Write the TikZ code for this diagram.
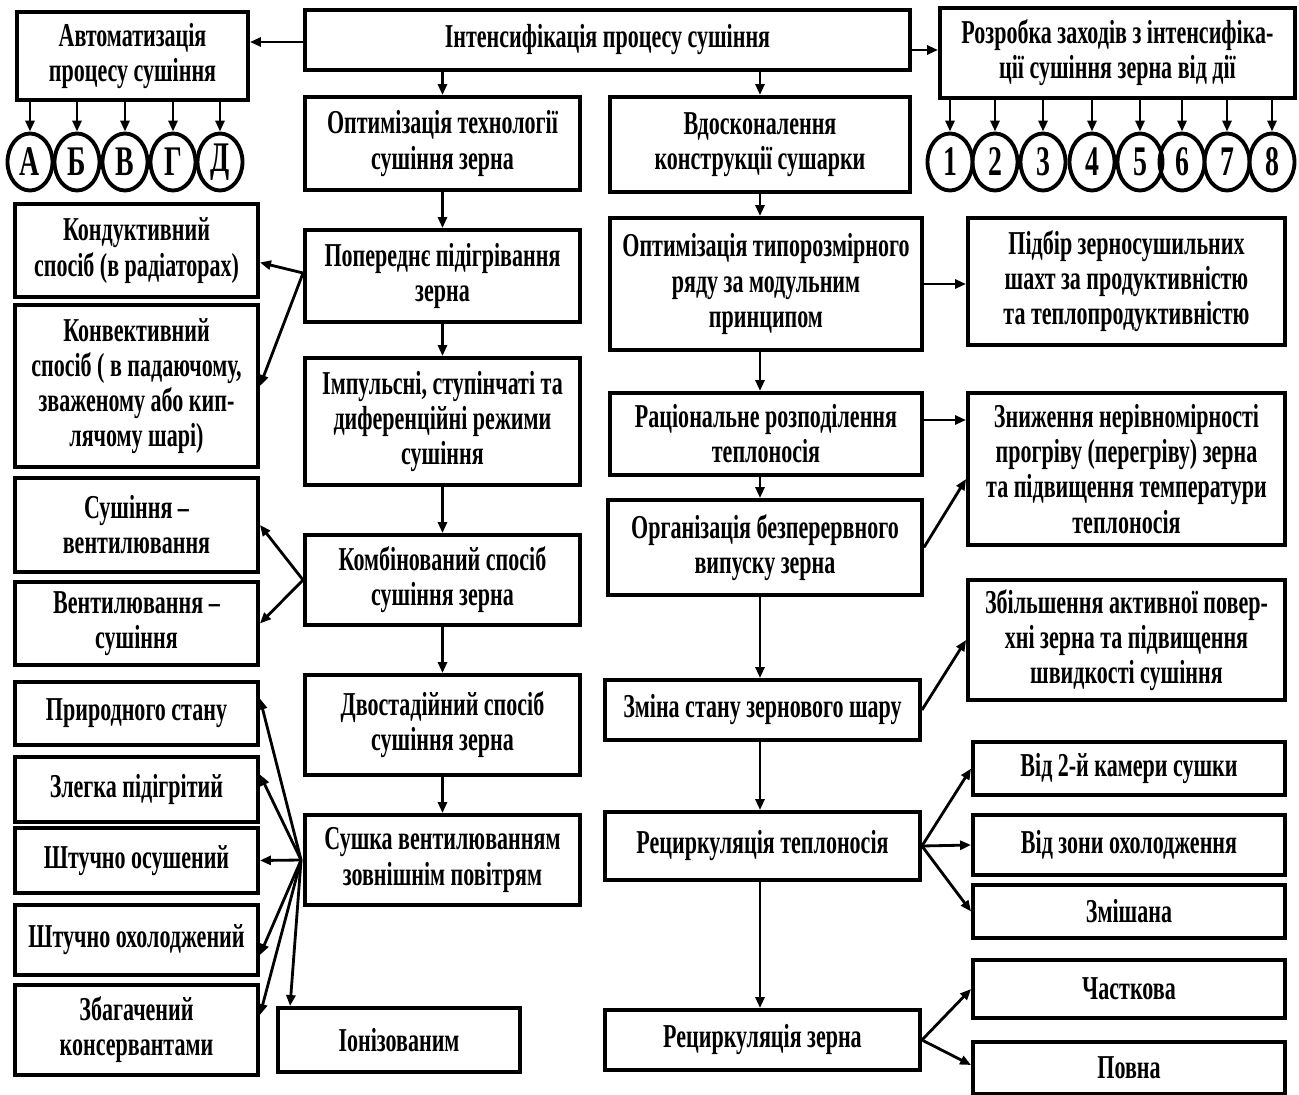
\documentclass[tikz,border=0pt]{standalone}
\usepackage{fontspec}
\setmainfont{Liberation Serif}[FakeStretch=0.66]
\usetikzlibrary{arrows.meta,shapes.geometric,calc}
% \mybox{name}{x1}{y1}{x2}{y2}{text}  (pixel coordinates)
\newcommand\mybox[6]{%
  \node[box, minimum width={(#4-#2)*0.02cm}, minimum height={(#5-#3)*0.02cm}]
    (#1) at ({(#2+#4)/2},{(#3+#5)/2}) {#6};}
\begin{document}
\begin{tikzpicture}[x=0.02cm,y=-0.02cm,
  box/.style={draw, line width=2.2pt, inner sep=0pt, align=center,
    font=\bfseries\fontsize{19}{20}\selectfont},
  circ/.style={draw, ellipse, line width=2.2pt, minimum width=0.9cm,
    minimum height=1.14cm, inner sep=0pt, font=\bfseries\fontsize{24}{24}\selectfont},
  arr/.style={line width=1.6pt, -{Triangle[length=0.22cm,width=0.18cm]}}]
\useasboundingbox (0,0) rectangle (1299,1095);

% top row
\mybox{avt}{17}{12}{248}{100}{Автоматизація\\процесу сушіння}
\mybox{intens}{305}{10}{910}{70}{Інтенсифікація процесу сушіння}
\mybox{rozr}{940}{8}{1295}{98}{Розробка заходів з інтенсифіка-\\ції сушіння зерна від дії}

\foreach \n/\x/\t in {a/30/А, b/77/Б, c/125/В, d/173/Г, e/220/Д}
  \node[circ] (c\n) at (\x,162) {\t};
\foreach \n/\x in {1/950,2/995,3/1043,4/1092,5/1140,6/1182,7/1227,8/1272}
  \node[circ] (d\n) at (\x,162) {\n};

% left-middle column
\mybox{opt1}{305}{97}{580}{190}{Оптимізація технології\\сушіння зерна}
\mybox{pop}{305}{230}{580}{322}{Попереднє підігрівання\\зерна}
\mybox{imp}{305}{358}{580}{485}{Імпульсні, ступінчаті та\\диференційні режими\\сушіння}
\mybox{komb}{305}{535}{580}{625}{Комбінований спосіб\\сушіння зерна}
\mybox{dvo}{305}{675}{580}{775}{Двостадійний спосіб\\сушіння зерна}
\mybox{sush}{305}{815}{580}{905}{Сушка вентилюванням\\зовнішнім повітрям}
\mybox{ion}{278}{1008}{520}{1072}{Іонізованим}

% left column
\mybox{kond}{15}{204}{258}{297}{Кондуктивний\\спосіб (в радіаторах)}
\mybox{konv}{15}{305}{258}{467}{Конвективний\\спосіб ( в падаючому,\\зваженому або кип-\\лячому шарі)}
\mybox{sv}{15}{478}{258}{572}{Сушіння –\\вентилювання}
\mybox{vs}{15}{582}{258}{665}{Вентилювання –\\сушіння}
\mybox{pryr}{15}{682}{258}{745}{Природного стану}
\mybox{zleg}{15}{757}{258}{822}{Злегка підігрітий}
\mybox{osush}{15}{828}{258}{893}{Штучно осушений}
\mybox{ohol}{15}{905}{258}{975}{Штучно охолоджений}
\mybox{zbag}{15}{985}{258}{1075}{Збагачений\\консервантами}

% right-middle column
\mybox{vdos}{610}{97}{910}{192}{Вдосконалення\\конструкції сушарки}
\mybox{typ}{610}{218}{922}{350}{Оптимізація типорозмірного\\ряду за  модульним\\принципом}
\mybox{rac}{610}{393}{922}{475}{Раціональне розподілення\\теплоносія}
\mybox{org}{608}{500}{922}{595}{Організація безперервного\\випуску зерна}
\mybox{zmin}{605}{680}{920}{740}{Зміна стану зернового шару}
\mybox{rect}{605}{812}{920}{880}{Рециркуляція теплоносія}
\mybox{recz}{605}{1010}{920}{1070}{Рециркуляція зерна}

% right column
\mybox{pidb}{968}{218}{1285}{345}{Підбір зерносушильних\\шахт за продуктивністю\\та теплопродуктивністю}
\mybox{zny}{968}{393}{1285}{545}{Зниження нерівномірності\\прогріву (перегріву) зерна\\та підвищення температури\\теплоносія}
\mybox{zbil}{968}{580}{1285}{700}{Збільшення активної повер-\\хні зерна та підвищення\\швидкості сушіння}
\mybox{vid2}{973}{742}{1285}{795}{Від 2-й камери сушки}
\mybox{vidz}{973}{815}{1285}{875}{Від зони охолодження}
\mybox{zmish}{973}{885}{1285}{938}{Змішана}
\mybox{chas}{973}{960}{1285}{1018}{Часткова}
\mybox{povn}{973}{1042}{1285}{1094}{Повна}

% connectors: top
\coordinate (iw) at ([yshift=-0.04cm]intens.west);
\coordinate (ie) at ([yshift=-0.2cm]intens.east);
\draw[arr] (iw) -- (avt.east |- iw);
\draw[arr] (ie) -- (rozr.west |- ie);
\foreach \n in {a,b,c,d,e} \draw[arr] (avt.south -| c\n) -- (c\n.north);
\foreach \n in {1,...,8} \draw[arr] (rozr.south -| d\n) -- (d\n.north);
\draw[arr] (intens.south -| opt1) -- (opt1.north);
\draw[arr] (intens.south -| vdos) -- (vdos.north);

% left-middle chain
\draw[arr] (opt1.south) -- (pop.north);
\draw[arr] (pop.south) -- (imp.north);
\draw[arr] (imp.south) -- (komb.north);
\draw[arr] (komb.south) -- (dvo.north);
\draw[arr] (dvo.south) -- (sush.north);

\coordinate (popw) at ([yshift=0.06cm]pop.west);
\draw[arr] (popw) -- ([yshift=-0.24cm]kond.east);
\draw[arr] (popw) -- (konv.east);
\draw[arr] (komb.west) -- (sv.east);
\draw[arr] (komb.west) -- (vs.east);
\coordinate (sushw) at ([xshift=-0.04cm]sush.west);
\draw[arr] (sushw) -- ([yshift=0.3cm]pryr.east);
\draw[arr] (sushw) -- ([yshift=0.3cm]zleg.east);
\draw[arr] (sushw) -- (osush.east);
\draw[arr] (sushw) -- ([yshift=-0.3cm]ohol.east);
\draw[arr] (sushw) -- ([yshift=0.3cm]zbag.east);
\draw[arr] (sushw) -- ([xshift=0.28cm]ion.north west);

% right-middle chain
\draw[arr] (vdos.south) -- (vdos.south |- typ.north);
\draw[arr] (typ.south -| vdos) -- (rac.north -| vdos);
\draw[arr] (rac.south -| vdos) -- (org.north -| vdos);
\draw[arr] (org.south -| vdos) -- (zmin.north -| vdos);
\draw[arr] (zmin.south -| vdos) -- (rect.north -| vdos);
\draw[arr] (rect.south -| vdos) -- (recz.north -| vdos);

\coordinate (re) at ([yshift=0.28cm]rac.east);
\draw[arr] (typ.east) -- (pidb.west |- typ.east);
\draw[arr] (re) -- (zny.west |- re);
\draw[arr] (org.east) -- ([yshift=-0.2cm]zny.west);
\draw[arr] (zmin.east) -- (zbil.west);
\draw[arr] (rect.east) -- (vid2.west);
\draw[arr] (rect.east) -- (vidz.west);
\draw[arr] (rect.east) -- (zmish.west);
\draw[arr] (recz.east) -- (chas.west);
\draw[arr] (recz.east) -- ([yshift=0.06cm]povn.west);
\end{tikzpicture}
\end{document}
